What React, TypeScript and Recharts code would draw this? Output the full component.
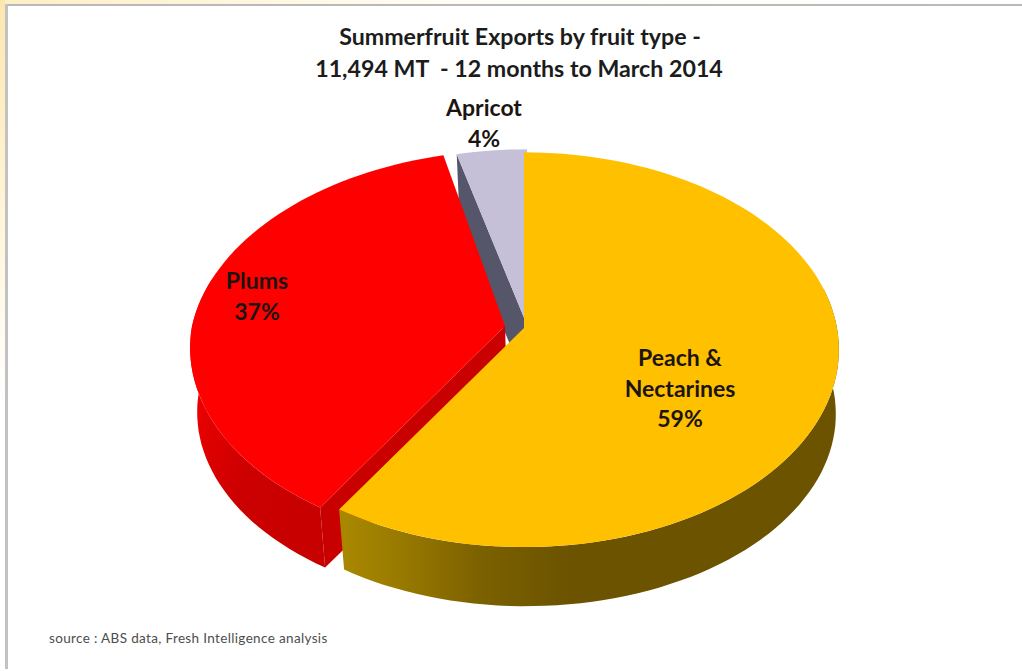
import { Pie, PieChart } from 'recharts';

// Slices run from 12 o'clock to the left, so the largest one paints last and sits on top.
const fruitNames = ['Apricot', 'Plums', 'Peach & Nectarines'];
const fruitShares = [4, 37, 59];
const fruitLabelLines = [['Apricot'], ['Plums'], ['Peach &', 'Nectarines']];
const titleLines = ['Summerfruit Exports by fruit type -', '11,494 MT  - 12 months to March 2014'];
const sourceNote = 'source : ABS data, Fresh Intelligence analysis';

const chartData = fruitNames.map((name, i) => ({ name, value: fruitShares[i] }));

const FONT = 'Lato, Carlito, sans-serif';

// Fake 3D settings: ellipse stretch, perspective strength and how far the base sits below the top
const X_STRETCH = 1.605;
const PERSPECTIVE = 0.11;
const DEPTH = 65;
const BASE_SCALE_X = 0.984;
const BASE_SCALE_Y = 0.973;
const BASE_SHIFT_X = 2;

const sliceStyles = [
  { top: '#c6bfd8', cut: '#55566a', side: '#55566a', dx: 4, dy: -2, lean: 0 },
  { top: '#ff0000', cut: '#c80000', side: 'url(#plumSide)', dx: -18, dy: -1, lean: 9 },
  { top: '#ffc000', cut: '#6b5300', side: 'url(#peachSide)', dx: 1, dy: 1, lean: 0 },
];

const labelSpots = [
  { x: 484, y: 116 },
  { x: 257, y: 289 },
  { x: 680, y: 366 },
];

const LINE_HEIGHT = 30.5;

function project(cx: number, cy: number, r: number, deg: number, lean: number, base = false) {
  const rad = (deg * Math.PI) / 180;
  const u = Math.sin(rad);
  const v = -Math.cos(rad);
  const d = 1 - PERSPECTIVE * v;
  // lean only pushes the far half of the rim to the right
  const x = (r * X_STRETCH * u) / d + lean * Math.max(-v, 0);
  const y = (r * v) / d;
  if (!base) return [cx + x, cy + y];
  return [cx + BASE_SHIFT_X + x * BASE_SCALE_X, cy + DEPTH + y * BASE_SCALE_Y];
}

function toPath(points: number[][]) {
  return 'M' + points.map((p) => `${p[0].toFixed(1)},${p[1].toFixed(1)}`).join('L') + 'Z';
}

function arcPoints(from: number, to: number, fn: (deg: number) => number[]) {
  const out: number[][] = [];
  const steps = Math.max(2, Math.ceil((to - from) / 2));
  for (let i = 0; i <= steps; i++) out.push(fn(from + ((to - from) * i) / steps));
  return out;
}

function Slice3D(props: any) {
  const { cx, cy, outerRadius, startAngle, endAngle, index } = props;
  const style = sliceStyles[index];
  const x0 = cx + style.dx;
  const y0 = cy + style.dy;
  const r = outerRadius;
  // recharts angles -> degrees clockwise from 12 o'clock
  const lo = ((90 - endAngle) % 360 + 360) % 360;
  const hi = lo + (endAngle - startAngle);

  const top = (a: number) => project(x0, y0, r, a, style.lean);
  const base = (a: number) => project(x0, y0, r, a, style.lean, true);
  const apexTop = [x0, y0];
  const apexBase = [x0 + BASE_SHIFT_X, y0 + DEPTH];

  const sideFrom = Math.max(lo, 78);
  const sideTo = Math.min(hi, 284);
  const hasSide = sideTo > sideFrom;

  return (
    <g>
      <path d={toPath([top(lo), apexTop, apexBase, base(lo)])} fill={style.cut} />
      {hasSide && (
        <path
          d={toPath([...arcPoints(sideFrom, sideTo, top), ...arcPoints(sideFrom, sideTo, base).reverse()])}
          fill={style.side}
        />
      )}
      <path d={toPath([apexTop, ...arcPoints(lo, hi, top)])} fill={style.top} />
    </g>
  );
}

function SliceLabel(props: any) {
  const { index, value } = props;
  const spot = labelSpots[index];
  const lines = [...fruitLabelLines[index], `${value}%`];
  return (
    <text textAnchor="middle" fontFamily={FONT} fontWeight={700} fontSize={23} fill="#1c1410">
      {lines.map((line, i) => (
        <tspan key={line} x={spot.x} y={spot.y + i * LINE_HEIGHT}>
          {line}
        </tspan>
      ))}
    </text>
  );
}

export default function App() {
  return (
    <div style={{ position: 'absolute', left: 0, top: 0, width: 1022, height: 671, background: '#fff', overflow: 'hidden' }}>
      {/* slide edge behind the chart */}
      <div style={{ position: 'absolute', left: 0, top: 0, width: 1022, height: 5, background: 'linear-gradient(90deg, #fdeec4, #fffdf6 45%, #ffffff)' }} />
      <div style={{ position: 'absolute', left: 0, top: 0, width: 5, height: 671, background: 'linear-gradient(180deg, #fde7b0, #fff6dc 35%, #ffffff 60%)' }} />
      <div style={{ position: 'absolute', left: 5, top: 4, width: 1017, height: 2, background: '#b9b9b9' }} />
      <div style={{ position: 'absolute', left: 5, top: 4, width: 3, height: 665, background: '#c2c2c2' }} />
      <PieChart width={1022} height={671} margin={{ top: 0, right: 0, bottom: 0, left: 0 }} style={{ position: 'absolute', left: 0, top: 0 }}>
        <defs>
          <linearGradient id="peachSide" x1="0" y1="0" x2="1" y2="0">
            <stop offset="0" stopColor="#a98800" />
            <stop offset="0.1" stopColor="#9c7d00" />
            <stop offset="0.28" stopColor="#7c6100" />
            <stop offset="0.46" stopColor="#6b5300" />
            <stop offset="1" stopColor="#6b5300" />
          </linearGradient>
          <linearGradient id="plumSide" x1="0" y1="0" x2="1" y2="1">
            <stop offset="0" stopColor="#ff0000" />
            <stop offset="0.3" stopColor="#e40000" />
            <stop offset="0.55" stopColor="#cc0000" />
            <stop offset="1" stopColor="#c60000" />
          </linearGradient>
        </defs>
        <Pie
          data={chartData}
          dataKey="value"
          nameKey="name"
          cx={523}
          cy={327}
          innerRadius={0}
          outerRadius={195}
          startAngle={90}
          endAngle={450}
          paddingAngle={0}
          stroke="none"
          shape={Slice3D}
          label={SliceLabel}
          labelLine={false}
          isAnimationActive={false}
        />
        <text textAnchor="middle" fontFamily={FONT} fontWeight={700} fontSize={23.2} fill="#1c1c1c">
          <tspan x={520} y={45}>{titleLines[0]}</tspan>
          <tspan x={519} y={77} xmlSpace="preserve">{titleLines[1]}</tspan>
        </text>
        <text x={49} y={643} fontFamily={FONT} fontSize={13.5} letterSpacing={0.35} fill="#4d4d4d">
          {sourceNote}
        </text>
      </PieChart>
    </div>
  );
}
